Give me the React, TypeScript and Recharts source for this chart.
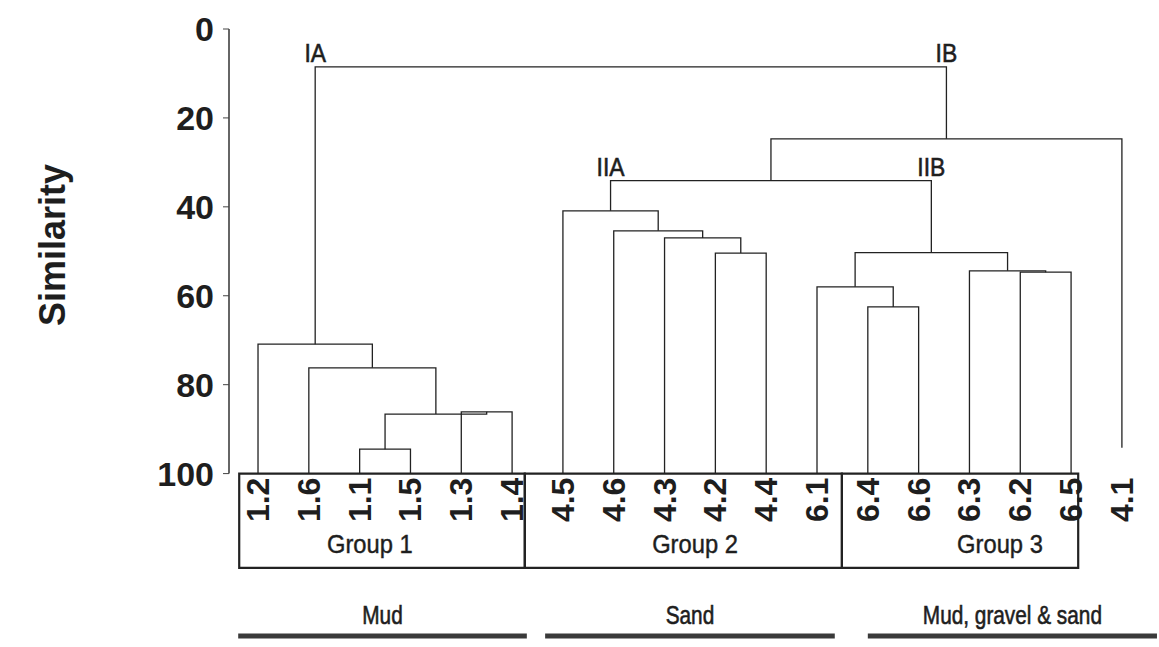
import { ComposedChart, Line, XAxis, YAxis, Scatter, ReferenceArea, ReferenceLine } from 'recharts';

// leaves, left to right
const leafLabels = ['1.2', '1.6', '1.1', '1.5', '1.3', '1.4', '4.5', '4.6', '4.3', '4.2', '4.4', '6.1', '6.4', '6.6', '6.3', '6.2', '6.5', '4.1'];
const outsideLeaf = '4.1';
const outsideLeafEnd = 94.2;

// merges: [left child, right child, similarity]  (L = leaf index, M = earlier merge)
const merges: [string, string, number][] = [
    ['L2', 'L3', 94.5],
    ['L4', 'L5', 86.1],
    ['M0', 'M1', 86.6],
    ['L1', 'M2', 76.2],
    ['L0', 'M3', 70.9],
    ['L9', 'L10', 50.4],
    ['L8', 'M5', 47.0],
    ['L7', 'M6', 45.4],
    ['L6', 'M7', 40.9],
    ['L12', 'L13', 62.5],
    ['L11', 'M9', 58.0],
    ['L15', 'L16', 54.7],
    ['L14', 'M11', 54.4],
    ['M10', 'M12', 50.3],
    ['M8', 'M13', 34.1],
    ['M14', 'L17', 24.7],
    ['M4', 'M15', 8.5]
];

const clusterNames = ['IA', 'IB', 'IIA', 'IIB'];
const clusterNodes = ['M4', 'M15', 'M8', 'M13'];
const clusterParents = ['M16', 'M16', 'M14', 'M14'];

const groupNames = ['Group 1', 'Group 2', 'Group 3'];
const groupEdges = [-0.37, 5.25, 11.49, 16.14];
const groupLabelAt = [2.2, 8.6, 14.6];

const sediments = ['Mud', 'Sand', 'Mud, gravel & sand'];
const sedimentSpans = [[-0.39, 5.29], [5.65, 11.35], [12.0, 17.69]];

const yTicks = [0, 20, 40, 60, 80, 100];

const FONT = '"Liberation Sans", Arial, sans-serif';
const INK = '#1e1e1e';
const X_DOMAIN = [-0.571, 17.73];
const Y_DOMAIN = [0, 139];

const nodeX: Record<string, number> = {};
const nodeY: Record<string, number> = {};
leafLabels.forEach((lab, i) => {
    nodeX['L' + i] = i;
    nodeY['L' + i] = lab === outsideLeaf ? outsideLeafEnd : 100;
});
merges.forEach(([a, b, h], i) => {
    nodeX['M' + i] = (nodeX[a] + nodeX[b]) / 2;
    nodeY['M' + i] = h;
});

const links = merges.map(([a, b, h]) => [
    { x: nodeX[a], y: nodeY[a] },
    { x: nodeX[a], y: h },
    { x: nodeX[b], y: h },
    { x: nodeX[b], y: nodeY[b] }
]);

const leafText = leafLabels.map((t, i) => ({ x: i, y: 105.9, t }));
const clusterText = clusterNames.map((t, i) => ({ x: nodeX[clusterNodes[i]], y: nodeY[clusterParents[i]], t }));
const groupText = groupNames.map((t, i) => ({ x: groupLabelAt[i], y: 116, t }));
const sedimentText = sediments.map((t, i) => ({ x: (sedimentSpans[i][0] + sedimentSpans[i][1]) / 2, y: 136.5, t }));

const LeafLabel = (p: any) => (
    <text x={p.cx} y={p.cy} transform={`rotate(-90 ${p.cx} ${p.cy})`} textAnchor="middle" dominantBaseline="central"
        fontFamily={FONT} fontWeight="bold" fontSize={32} fill={INK}>{p.payload.t}</text>
);
// the printed labels are in a condensed face, so squeeze horizontally; thin stroke for the heavier print
const ClusterLabel = (p: any) => (
    <text transform={`translate(${p.cx} ${p.cy - 5}) scale(0.88 1)`} textAnchor="middle"
        fontFamily={FONT} fontSize={26} fill={INK} stroke={INK} strokeWidth={0.6}>{p.payload.t}</text>
);
const GroupLabel = (p: any) => (
    <text transform={`translate(${p.cx} ${p.cy + 8}) scale(0.95 1)`} textAnchor="middle"
        fontFamily={FONT} fontSize={25} fill={INK} stroke={INK} strokeWidth={0.4}>{p.payload.t}</text>
);
const SedimentLabel = (p: any) => (
    <text transform={`translate(${p.cx} ${p.cy - 12}) scale(0.8 1)`} textAnchor="middle"
        fontFamily={FONT} fontSize={26} fill={INK} stroke={INK} strokeWidth={0.6}>{p.payload.t}</text>
);

const YLabel = (props: any) => {
    const vb = props.viewBox || { x: 0, y: 29 };
    const x = vb.x + 65;
    const y = vb.y + 216;
    return (
        <text x={x} y={y} transform={`rotate(-90 ${x} ${y})`} textAnchor="middle"
            fontFamily={FONT} fontWeight="bold" fontSize={36} fill={INK}>Similarity</text>
    );
};

export default function App() {
    return (
        <div style={{ position: 'absolute', left: 0, top: 0, background: '#fff' }}>
            <ComposedChart width={1159} height={647} margin={{ top: 29, right: 0, bottom: 0, left: 0 }}>
                <XAxis type="number" dataKey="x" domain={X_DOMAIN} allowDataOverflow hide />
                <YAxis
                    type="number"
                    dataKey="y"
                    domain={Y_DOMAIN}
                    allowDataOverflow
                    reversed
                    ticks={yTicks}
                    interval={0}
                    width={229}
                    axisLine={false}
                    tickLine={{ stroke: '#444' }}
                    tickSize={6}
                    tickMargin={9}
                    tick={{ fontSize: 34, fontWeight: 'bold', fill: INK, fontFamily: FONT }}
                    label={{ value: 'Similarity', content: YLabel }}
                />
                <ReferenceLine segment={[{ x: X_DOMAIN[0], y: 0 }, { x: X_DOMAIN[0], y: 100 }]} stroke="#333" strokeWidth={1.5} ifOverflow="visible" />
                {groupNames.map((g, i) => (
                    <ReferenceArea key={g} x1={groupEdges[i]} x2={groupEdges[i + 1]} y1={100} y2={121.2}
                        fill="none" stroke="#222" strokeWidth={2.2} ifOverflow="visible" />
                ))}
                {sedimentSpans.map((s, i) => (
                    <ReferenceLine key={sediments[i]} segment={[{ x: s[0], y: 136.5 }, { x: s[1], y: 136.5 }]}
                        stroke="#3a3a3a" strokeWidth={5} ifOverflow="visible" />
                ))}
                {links.map((seg, i) => (
                    <Line key={i} data={seg} dataKey="y" type="linear" stroke="#222" strokeWidth={1.3}
                        dot={false} activeDot={false} isAnimationActive={false} />
                ))}
                <Scatter data={leafText} shape={LeafLabel} isAnimationActive={false} />
                <Scatter data={clusterText} shape={ClusterLabel} isAnimationActive={false} />
                <Scatter data={groupText} shape={GroupLabel} isAnimationActive={false} />
                <Scatter data={sedimentText} shape={SedimentLabel} isAnimationActive={false} />
            </ComposedChart>
        </div>
    );
}
